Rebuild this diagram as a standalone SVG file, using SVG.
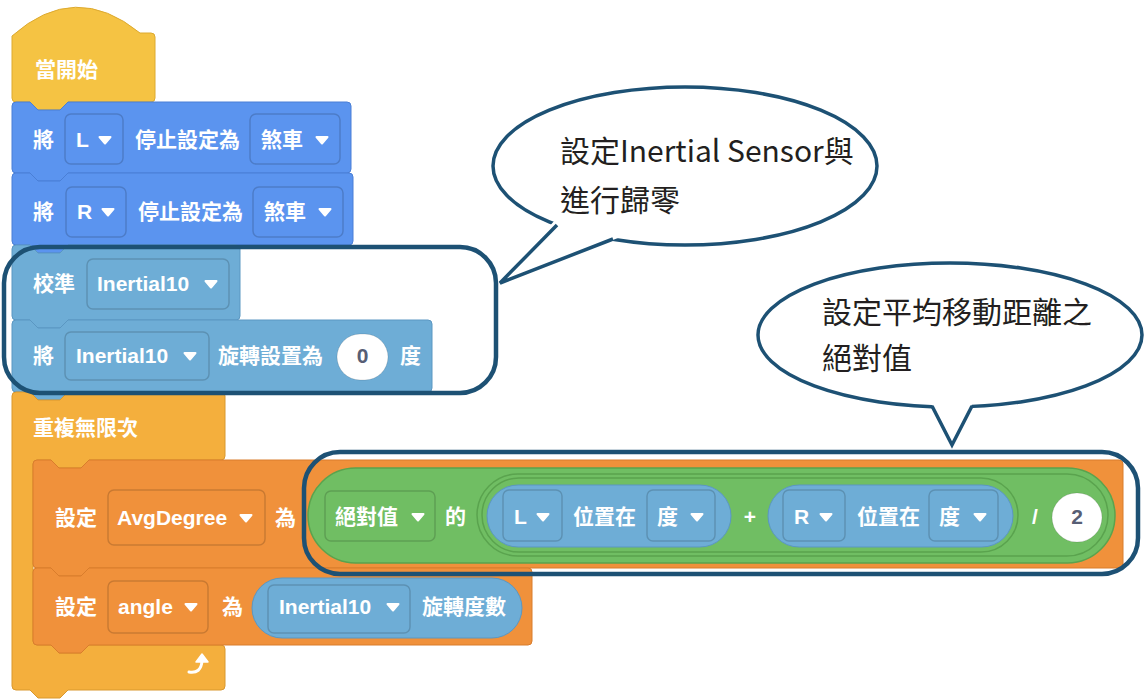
<svg xmlns="http://www.w3.org/2000/svg" width="1145" height="699" viewBox="0 0 1145 699">
<style>
.t{font-family:"Liberation Sans","Noto Sans CJK TC",sans-serif;font-weight:bold;font-size:21px;fill:#fff}
.dk{fill:#575E75}
.dd{fill:none;stroke:rgba(0,0,0,0.16);stroke-width:1.5}
.arr{fill:#fff;stroke:#fff;stroke-width:2;stroke-linejoin:round}
.hat{fill:#F5C343;stroke:#DDAA30;stroke-width:1}
.mo{fill:#5B94EF;stroke:#4A7FD6;stroke-width:1}
.se{fill:#6EADD6;stroke:#5B97C2;stroke-width:1}
.lp{fill:#F4AF3D;stroke:#D9982F;stroke-width:1}
.va{fill:#F0913B;stroke:#D97D2C;stroke-width:1}
.op{fill:#70BE63;stroke:#5AA34E;stroke-width:1.5}
.hl{fill:none;stroke:#1D5174;stroke-width:4.5}
.bub{fill:#fff;stroke:#1D5174;stroke-width:3.5}
.ct{font-family:"Noto Sans CJK TC",sans-serif;font-size:30px;fill:#231F20}
.oval{fill:#fff;stroke:rgba(0,0,0,0.12);stroke-width:1}
</style>
<defs>
<path id="a" class="arr" d="M-5.5,-3 L5.5,-3 L0,3.5 Z"/>
</defs>

<g id="hat">
<path class="hat" d="M12,36 Q75,-20 140,33 H151 Q155,33 155,37 V98 Q155,102 151,102 H68 L60,110 H38 L30,102 H16 Q12,102 12,98 Z"/>
<text class="t" x="35" y="77">當開始</text>
</g>

<g id="stopL">
<path class="mo" d="M12,106 Q12,102 16,102 H30 L38,110 H60 L68,102 H347 Q351,102 351,106 V169 Q351,173 347,173 H68 L60,181 H38 L30,173 H16 Q12,173 12,169 Z"/>
<text class="t" x="33" y="147">將</text>
<rect class="dd" x="65" y="114" width="58" height="50" rx="6"/>
<text class="t" x="76" y="147">L</text>
<use href="#a" x="105" y="140"/>
<text class="t" x="135" y="147">停止設定為</text>
<rect class="dd" x="250" y="114" width="90" height="50" rx="6"/>
<text class="t" x="261" y="147">煞車</text>
<use href="#a" x="322" y="140"/>
</g>

<g id="stopR">
<path class="mo" d="M12,177 Q12,173 16,173 H30 L38,181 H60 L68,173 H349 Q353,173 353,177 V241 Q353,245 349,245 H68 L60,253 H38 L30,245 H16 Q12,245 12,241 Z"/>
<text class="t" x="33" y="219">將</text>
<rect class="dd" x="66" y="187" width="60" height="50" rx="6"/>
<text class="t" x="77" y="219">R</text>
<use href="#a" x="108" y="212"/>
<text class="t" x="138" y="219">停止設定為</text>
<rect class="dd" x="253" y="187" width="90" height="50" rx="6"/>
<text class="t" x="264" y="219">煞車</text>
<use href="#a" x="325" y="212"/>
</g>

<g id="calibrate">
<path class="se" d="M12,249 Q12,245 16,245 H30 L38,253 H60 L68,245 H236 Q240,245 240,249 V316 Q240,320 236,320 H68 L60,328 H38 L30,320 H16 Q12,320 12,316 Z"/>
<text class="t" x="33" y="291">校準</text>
<rect class="dd" x="87" y="259" width="142" height="50" rx="6"/>
<text class="t" x="97" y="291">Inertial10</text>
<use href="#a" x="211" y="284"/>
</g>

<g id="setRotation">
<path class="se" d="M12,324 Q12,320 16,320 H30 L38,328 H60 L68,320 H428 Q432,320 432,324 V388 Q432,392 428,392 H68 L60,400 H38 L30,392 H16 Q12,392 12,388 Z"/>
<text class="t" x="33" y="363">將</text>
<rect class="dd" x="65" y="332" width="144" height="48" rx="6"/>
<text class="t" x="76" y="363">Inertial10</text>
<use href="#a" x="190" y="356"/>
<text class="t" x="218" y="363">旋轉設置為</text>
<rect class="oval" x="337" y="334" width="51" height="46" rx="23"/>
<text class="t dk" x="362.5" y="363" text-anchor="middle">0</text>
<text class="t" x="400" y="363">度</text>
</g>

<g id="forever">
<path class="lp" d="M12,396 Q12,392 16,392 H30 L38,400 H60 L68,392 H221 Q225,392 225,396 V456 Q225,460 221,460 H89 L81,468 H59 L51,460 H37 Q33,460 33,464 V641 Q33,645 37,645 H51 L59,653 H81 L89,645 H221 Q225,645 225,649 V686 Q225,690 221,690 H68 L60,698 H38 L30,690 H16 Q12,690 12,686 Z"/>
<text class="t" x="33" y="435">重複無限次</text>
<path d="M189,672 Q201,674 202,661" fill="none" stroke="#fff" stroke-width="3" stroke-linecap="round"/>
<path d="M196,662 L202,654 L208,662 Z" fill="#fff" stroke="#fff" stroke-width="1.5" stroke-linejoin="round"/>
</g>

<g id="setAvg">
<path class="va" d="M33,464 Q33,460 37,460 H51 L59,468 H81 L89,460 H1119 Q1123,460 1123,464 V564 Q1123,568 1119,568 H89 L81,576 H59 L51,568 H37 Q33,568 33,564 Z"/>
<text class="t" x="55" y="525">設定</text>
<rect class="dd" x="108" y="490" width="157" height="55" rx="6"/>
<text class="t" x="117" y="525">AvgDegree</text>
<use href="#a" x="246" y="518"/>
<text class="t" x="275" y="525">為</text>
<rect class="op" x="308" y="468" width="807" height="95" rx="47.5"/>
<rect class="dd" x="325" y="491" width="110" height="50" rx="6"/>
<text class="t" x="335" y="524">絕對值</text>
<use href="#a" x="418" y="517"/>
<text class="t" x="445" y="524">的</text>
<rect class="op" x="477" y="474" width="631" height="82" rx="41"/>
<rect class="op" x="482" y="478" width="536" height="74" rx="37"/>
<rect class="se" x="487" y="485" width="244" height="62" rx="31"/>
<rect class="dd" x="503" y="490" width="59" height="51" rx="6"/>
<text class="t" x="514" y="524">L</text>
<use href="#a" x="543" y="517"/>
<text class="t" x="573" y="524">位置在</text>
<rect class="dd" x="647" y="490" width="68" height="51" rx="6"/>
<text class="t" x="657" y="524">度</text>
<use href="#a" x="697" y="517"/>
<text class="t" x="750" y="524" text-anchor="middle">+</text>
<rect class="se" x="768" y="485" width="245" height="62" rx="31"/>
<rect class="dd" x="783" y="490" width="62" height="51" rx="6"/>
<text class="t" x="794" y="524">R</text>
<use href="#a" x="826" y="517"/>
<text class="t" x="857" y="524">位置在</text>
<rect class="dd" x="929" y="490" width="69" height="51" rx="6"/>
<text class="t" x="939" y="524">度</text>
<use href="#a" x="980" y="517"/>
<text class="t" x="1035" y="524" text-anchor="middle">/</text>
<rect class="oval" x="1052" y="493" width="50" height="49" rx="24.5"/>
<text class="t dk" x="1077" y="524" text-anchor="middle">2</text>
</g>

<g id="setAngle">
<path class="va" d="M33,572 Q33,568 37,568 H51 L59,576 H81 L89,568 H528 Q532,568 532,572 V641 Q532,645 528,645 H89 L81,653 H59 L51,645 H37 Q33,645 33,641 Z"/>
<text class="t" x="55" y="614">設定</text>
<rect class="dd" x="108" y="581" width="100" height="52" rx="6"/>
<text class="t" x="118" y="614">angle</text>
<use href="#a" x="191" y="607"/>
<text class="t" x="222" y="614">為</text>
<rect class="se" x="252" y="578" width="270" height="60" rx="30"/>
<rect class="dd" x="268" y="585" width="142" height="48" rx="6"/>
<text class="t" x="279" y="614">Inertial10</text>
<use href="#a" x="393" y="607"/>
<text class="t" x="422" y="614">旋轉度數</text>
</g>

<g id="highlight1"><rect class="hl" x="4" y="247" width="492" height="146" rx="36"/></g>
<g id="highlight2"><rect class="hl" x="304" y="452" width="834" height="122" rx="36"/></g>

<g id="bubble1">
<ellipse class="bub" cx="685" cy="166" rx="192" ry="79"/>
<text class="ct" x="560" y="162">設定Inertial Sensor與</text>
<text class="ct" x="560" y="211">進行歸零</text>
</g>
<g id="bubble2">
<ellipse class="bub" cx="950" cy="335" rx="192" ry="72"/>
<text class="ct" x="822" y="323">設定平均移動距離之</text>
<text class="ct" x="822" y="369">絕對值</text>
</g>

<g id="connectors">
<polygon points="555,220 500,283 618,238 618,225 560,212" fill="#fff"/>
<polyline points="557,225 500,283 613,239" fill="none" stroke="#1D5174" stroke-width="3.5"/>
<polygon points="929,398 952,445 975,398" fill="#fff"/>
<polyline points="932,406 952,445 972,406" fill="none" stroke="#1D5174" stroke-width="3.5"/>
</g>
</svg>
